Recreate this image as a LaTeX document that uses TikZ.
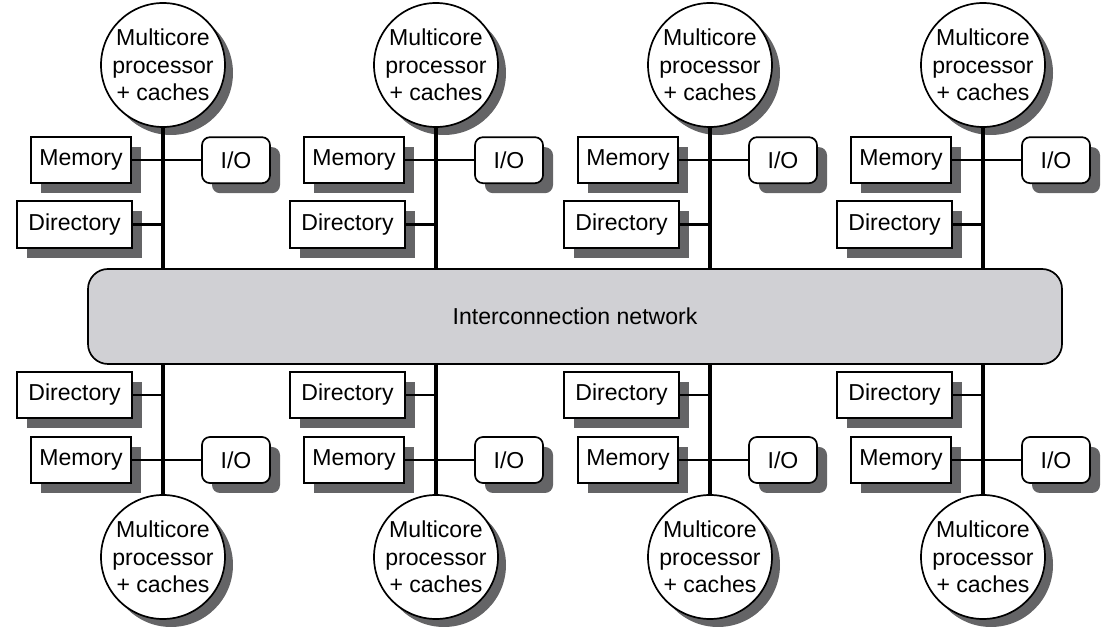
\documentclass[tikz,border=0pt]{standalone}
\usepackage{fontspec}
\setmainfont{Liberation Sans}
\usetikzlibrary{shadows}
\definecolor{netgray}{RGB}{208,208,212}
\definecolor{shadegray}{RGB}{100,100,102}
\tikzset{
  part/.style={draw, line width=1.2pt, fill=white, inner sep=0pt, minimum height=1.15cm,
    drop shadow={shadow xshift=0.25cm, shadow yshift=-0.25cm, fill=shadegray, opacity=1}},
  cpu/.style={circle, draw, line width=1.2pt, fill=white, minimum size=3cm, inner sep=0pt, align=center,
    font=\fontsize{16.4}{19.5}\selectfont,
    drop shadow={shadow xshift=0.2cm, shadow yshift=-0.2cm, fill=shadegray, opacity=1}},
  bus/.style={line width=2.4pt},
  branch/.style={line width=1.7pt}
}
\begin{document}
\begin{tikzpicture}[font=\fontsize{16.4}{18.5}\selectfont]
\useasboundingbox (0,0) rectangle (27.65,15.675);
\node[draw, line width=1.2pt, fill=netgray, rounded corners=0.5cm, minimum width=24.35cm,
  minimum height=2.375cm] (net) at (14.375,7.7625) {Interconnection network};
\foreach \n/\x in {1/4.075, 2/10.9, 3/17.75, 4/24.575} {
% upper half
\node[cpu] (cpuT\n) at (\x,14.05) {Multicore\\processor\\+ caches};
\node[part, minimum width=2.5cm] (memT\n) at (\x-2.05,11.67) {Memory};
\node[part, minimum width=1.7cm, rounded corners=0.2cm] (ioT\n) at (\x+1.825,11.67) {I/O};
\node[part, minimum width=2.875cm, minimum height=1.175cm] (dirT\n) at (\x-2.2125,10.0625) {Directory};
\draw[bus] (cpuT\n) -- (cpuT\n |- net.north);
\draw[branch] (memT\n) -- (ioT\n);
\draw[branch] (dirT\n) -- (dirT\n -| cpuT\n);
% lower half
\node[part, minimum width=2.875cm] (dirB\n) at (\x-2.2125,5.8) {Directory};
\node[part, minimum width=2.5cm] (memB\n) at (\x-2.05,4.175) {Memory};
\node[part, minimum width=1.7cm, rounded corners=0.2cm] (ioB\n) at (\x+1.825,4.175) {I/O};
\node[cpu] (cpuB\n) at (\x,1.75) {Multicore\\processor\\+ caches};
\draw[bus] (cpuB\n) -- (cpuB\n |- net.south);
\draw[branch] (memB\n) -- (ioB\n);
\draw[branch] (dirB\n) -- (dirB\n -| cpuB\n);
}
\end{tikzpicture}
\end{document}
